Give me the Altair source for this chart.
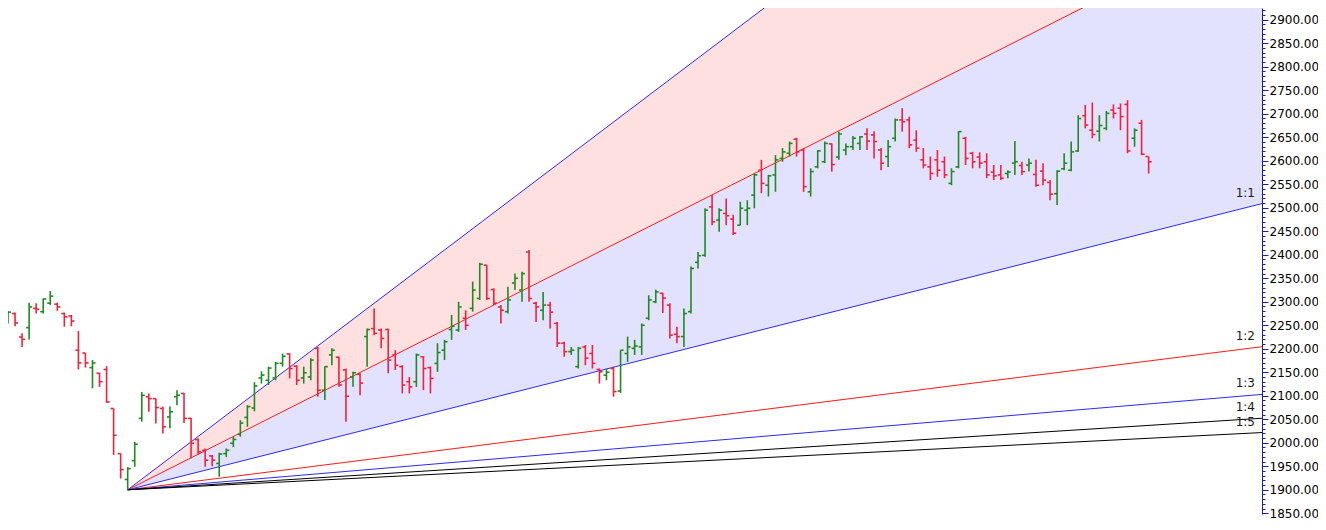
import altair as alt
import pandas as pd

# ---------------- data ----------------
IDX = list(range(-18, 146))  # bar index, pivot bar = 0

OPEN = [2257, 2262, 2275, 2225, 2245, 2286, 2279, 2297, 2295, 2275, 2270, 2197,
        2191, 2160, 2148, 2156, 2073, 1977,
        1922,
        1962, 2052, 2098, 2094, 2073, 2055, 2098, 2105, 2052, 2007, 1984, 1972,
        1956, 1977, 1999, 2018, 2054, 2074, 2138, 2133, 2138, 2169, 2189, 2163,
        2138, 2140, 2201, 2112, 2187, 2182, 2155, 2140, 2146, 2226, 2243, 2240,
        2241, 2187, 2162, 2130, 2130, 2183, 2160, 2169, 2197, 2241, 2240, 2265,
        2286, 2307, 2378, 2326, 2289, 2279, 2340, 2325, 2406, 2297, 2282, 2293,
        2254, 2212, 2194, 2162, 2204, 2190, 2156, 2144, 2158, 2110, 2190, 2201,
        2204, 2265, 2300, 2318, 2293, 2231, 2226, 2279, 2384, 2399, 2502, 2474,
        2488, 2476, 2463, 2495, 2527, 2580, 2548, 2570, 2605, 2616, 2646, 2623,
        2534, 2587, 2598, 2636, 2608, 2623, 2630, 2637, 2657, 2655, 2623, 2609,
        2648, 2687, 2687, 2644, 2602, 2587, 2602, 2598, 2552, 2587, 2648, 2616,
        2608, 2598, 2576, 2570, 2573, 2595, 2590, 2591, 2571, 2578, 2554, 2530,
        2583, 2580, 2621, 2696, 2665, 2663, 2669, 2708, 2712, 2720, 2648, 2680,
        2609]

HIGH = [2278, 2280, 2277, 2233, 2298, 2297, 2307, 2323, 2298, 2277, 2272, 2238,
        2191, 2176, 2149, 2163, 2073, 1977,
        1948,
        2002, 2108, 2105, 2094, 2077, 2077, 2112, 2106, 2053, 2009, 1988, 1974,
        1979, 1988, 2013, 2048, 2080, 2129, 2152, 2162, 2172, 2190, 2190, 2165,
        2162, 2180, 2204, 2163, 2201, 2183, 2158, 2151, 2148, 2243, 2286, 2243,
        2243, 2197, 2165, 2140, 2190, 2184, 2162, 2212, 2219, 2272, 2300, 2282,
        2343, 2383, 2378, 2329, 2293, 2332, 2360, 2364, 2410, 2300, 2321, 2300,
        2257, 2215, 2204, 2204, 2208, 2208, 2158, 2158, 2162, 2197, 2226, 2219,
        2254, 2314, 2326, 2319, 2297, 2247, 2286, 2375, 2406, 2499, 2527, 2499,
        2520, 2485, 2513, 2516, 2573, 2602, 2570, 2612, 2627, 2641, 2649, 2627,
        2584, 2623, 2641, 2637, 2662, 2637, 2653, 2653, 2669, 2663, 2627, 2644,
        2690, 2712, 2694, 2665, 2627, 2609, 2623, 2609, 2584, 2663, 2651, 2619,
        2618, 2616, 2591, 2591, 2580, 2642, 2598, 2605, 2602, 2595, 2559, 2580,
        2616, 2641, 2697, 2719, 2724, 2697, 2706, 2720, 2722, 2729, 2669, 2687,
        2609]

LOW = [2255, 2254, 2248, 2204, 2220, 2275, 2275, 2293, 2281, 2247, 2248, 2156,
       2160, 2116, 2119, 2085, 1974, 1924,
       1900,
       1949, 2045, 2066, 2041, 2020, 2031, 2080, 2042, 1967, 1974, 1949, 1950,
       1928, 1970, 1991, 2013, 2034, 2067, 2126, 2123, 2133, 2162, 2137, 2123,
       2126, 2133, 2098, 2091, 2165, 2119, 2045, 2119, 2101, 2162, 2229, 2201,
       2148, 2155, 2105, 2105, 2119, 2112, 2105, 2151, 2176, 2219, 2236, 2240,
       2279, 2304, 2304, 2293, 2254, 2275, 2325, 2300, 2300, 2257, 2261, 2243,
       2204, 2183, 2187, 2158, 2165, 2158, 2126, 2133, 2098, 2106, 2172, 2187,
       2187, 2261, 2297, 2276, 2222, 2212, 2204, 2275, 2371, 2396, 2463, 2449,
       2463, 2442, 2463, 2463, 2499, 2531, 2524, 2534, 2598, 2609, 2609, 2534,
       2524, 2584, 2595, 2577, 2602, 2612, 2623, 2623, 2623, 2605, 2580, 2587,
       2641, 2662, 2627, 2619, 2584, 2559, 2566, 2563, 2548, 2584, 2591, 2584,
       2584, 2563, 2559, 2559, 2563, 2570, 2570, 2577, 2545, 2548, 2516, 2506,
       2580, 2578, 2619, 2669, 2648, 2641, 2665, 2690, 2665, 2616, 2630, 2612,
       2573]

CLOSE = [2276, 2278, 2255, 2220, 2289, 2284, 2306, 2312, 2289, 2268, 2259, 2170,
         2170, 2170, 2130, 2087, 2016, 1943,
         1945,
         1997, 2101, 2094, 2075, 2034, 2066, 2101, 2052, 1999, 1981, 1963, 1963,
         1976, 1984, 2007, 2042, 2077, 2121, 2144, 2159, 2169, 2184, 2158, 2133,
         2149, 2176, 2112, 2162, 2197, 2123, 2099, 2149, 2127, 2241, 2233, 2222,
         2176, 2165, 2123, 2119, 2187, 2158, 2137, 2192, 2215, 2248, 2289, 2250,
         2325, 2380, 2307, 2297, 2282, 2304, 2350, 2360, 2307, 2289, 2293, 2278,
         2212, 2194, 2197, 2201, 2180, 2169, 2151, 2150, 2109, 2197, 2204, 2206,
         2250, 2304, 2321, 2308, 2229, 2226, 2275, 2371, 2398, 2495, 2470, 2495,
         2483, 2446, 2499, 2499, 2570, 2552, 2568, 2602, 2619, 2637, 2619, 2545,
         2577, 2621, 2637, 2592, 2657, 2630, 2648, 2651, 2642, 2641, 2595, 2630,
         2687, 2683, 2634, 2627, 2591, 2573, 2580, 2570, 2577, 2662, 2605, 2598,
         2595, 2570, 2568, 2563, 2576, 2598, 2577, 2595, 2548, 2559, 2529, 2578,
         2595, 2619, 2690, 2676, 2656, 2675, 2701, 2701, 2694, 2621, 2665, 2614,
         2598]

FAN_NAMES = ["3:1", "2:1", "1:1", "1:2", "1:3", "1:4", "1:5"]
FAN_RATIOS = [3, 2, 1, 1 / 2, 1 / 3, 1 / 4, 1 / 5]
FAN_COLORS = ["#2a2aff", "#ff1a1a", "#2a2aff", "#ff1a1a", "#2a2aff", "#000000", "#000000"]
FAN_LABELED = ["1:1", "1:2", "1:3", "1:4", "1:5"]
PIVOT_I = 0
PIVOT_PRICE = 1900
UNIT = 3.78  # price per bar on the 1x1 line

UP_COLOR = "#1f8a1f"
DOWN_COLOR = "#f4203a"
PINK_FILL = "#ffe0e0"
LAV_FILL = "#e2e2ff"

X_DOMAIN = [-17.0, 161.1]
Y_DOMAIN = [1848.5, 2925.1]
TICK_LEN = 0.43
FONT = "DejaVu Sans"

# ---------------- tables ----------------
bars = pd.DataFrame({"i": IDX, "open": OPEN, "high": HIGH, "low": LOW, "close": CLOSE})
bars["col"] = [UP_COLOR if c >= o else DOWN_COLOR for o, c in zip(OPEN, CLOSE)]
bars["io"] = bars["i"] - TICK_LEN
bars["ic"] = bars["i"] + TICK_LEN

x_end = X_DOMAIN[1]
fan_rows = []
for n, r, c in zip(FAN_NAMES, FAN_RATIOS, FAN_COLORS):
    for xi in (PIVOT_I, x_end):
        fan_rows.append({"name": n, "i": xi, "p": PIVOT_PRICE + r * UNIT * (xi - PIVOT_I), "col": c})
fan = pd.DataFrame(fan_rows)

area_rows = []
for n, hi_r, lo_r, c in [("pink", 3, 2, PINK_FILL), ("lav", 2, 1, LAV_FILL)]:
    for xi in (PIVOT_I, x_end):
        area_rows.append({"name": n, "i": xi,
                          "hi": PIVOT_PRICE + hi_r * UNIT * (xi - PIVOT_I),
                          "lo": PIVOT_PRICE + lo_r * UNIT * (xi - PIVOT_I), "col": c})
areas = pd.DataFrame(area_rows)

lab = fan[(fan["i"] == x_end) & (fan["name"].isin(FAN_LABELED))]

# ---------------- encodings ----------------
xs = alt.Scale(domain=X_DOMAIN, nice=False, zero=False)
ys = alt.Scale(domain=Y_DOMAIN, nice=False, zero=False)
yaxis = alt.Axis(
    orient="right", title=None, grid=False,
    values=list(range(1850, 2921, 10)),
    labelExpr="datum.value % 50 == 0 ? format(datum.value, '.2f') : ''",
    tickSize={"condition": {"test": "datum.value % 50 == 0", "value": 6}, "value": 3},
    labelOverlap=False, labelFont=FONT, labelFontSize=12, labelColor="#000000",
    labelPadding=1, domainColor="#1c1caa", tickColor="#1c1caa",
    domainWidth=1, tickWidth=1,
)


def X(f):
    return alt.X(f"{f}:Q", scale=xs, axis=None)


def Y(f):
    return alt.Y(f"{f}:Q", scale=ys, axis=yaxis)


col = alt.Color("col:N", scale=None, legend=None)

area_layer = alt.Chart(areas).mark_area(clip=True, opacity=1).encode(
    x=X("i"), y=Y("hi"), y2="lo", color=col, detail="name:N")

fan_layer = alt.Chart(fan).mark_line(clip=True, strokeWidth=1).encode(
    x=X("i"), y=Y("p"), color=col, detail="name:N", order="i:Q")

wick = alt.Chart(bars).mark_rule(clip=True, strokeWidth=1.6).encode(
    x=X("i"), y=Y("low"), y2="high", color=col)
otick = alt.Chart(bars).mark_rule(clip=True, strokeWidth=1.6).encode(
    x=X("io"), x2="i", y=Y("open"), color=col)
ctick = alt.Chart(bars).mark_rule(clip=True, strokeWidth=1.6).encode(
    x=X("i"), x2="ic", y=Y("close"), color=col)

labels = alt.Chart(lab).mark_text(
    align="right", baseline="bottom", dx=-7, dy=-4, font=FONT, fontSize=12, color="#1a1a1a"
).encode(x=X("i"), y=Y("p"), text="name:N")

chart = alt.layer(area_layer, fan_layer, wick, otick, ctick, labels).properties(
    width=1254, height=506,
    padding={"left": 0, "top": 0, "right": 56, "bottom": 6},
    autosize=alt.AutoSizeParams(type="none"),
    background="#ffffff",
).configure_view(stroke=None)

chart.save("out.html", embed_options={"renderer": "svg", "actions": False})
